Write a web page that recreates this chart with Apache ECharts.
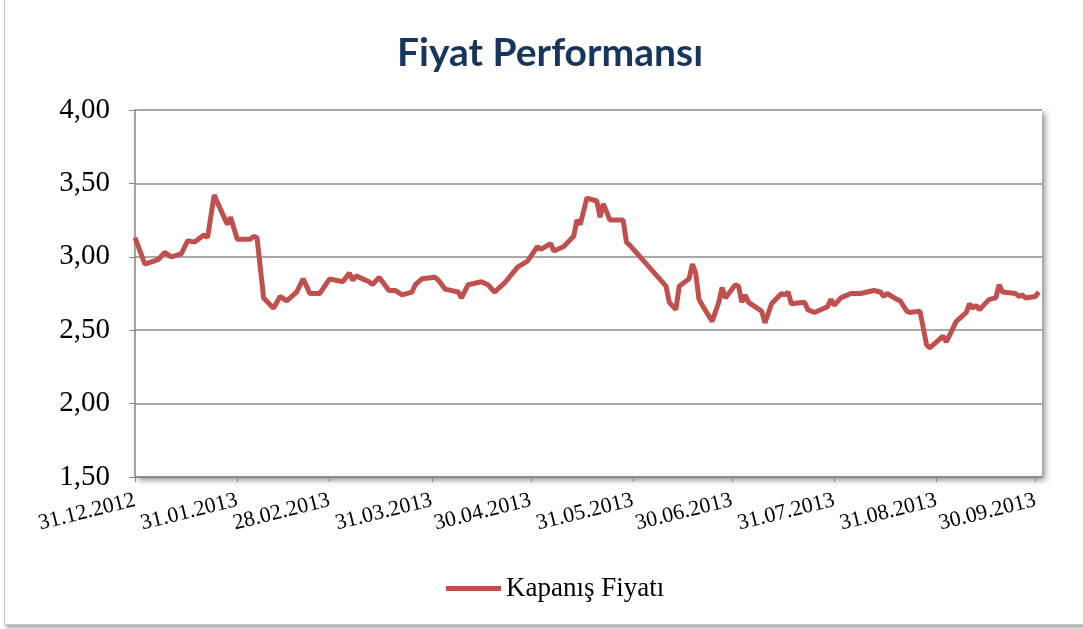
<!DOCTYPE html>
<html>
<head>
<meta charset="utf-8">
<script src="https://cdn.jsdelivr.net/npm/echarts@6/dist/echarts.min.js"></script>
<style>
  html, body { margin: 0; padding: 0; background: #fff; }
  #frame {
    position: absolute; left: 4px; top: -4px; width: 1100px; height: 627px;
    border: 1px solid #c8c8c8; box-shadow: 2px 3px 4px rgba(0,0,0,0.35); background: #fff;
  }
  #main { position: absolute; left: 0; top: 0; width: 1083px; height: 629px; }
</style>
</head>
<body>
<div id="frame"></div>
<div id="main"></div>
<script>
// closing prices
const dates = [
  "2012-12-31", "2013-01-03", "2013-01-07", "2013-01-09", "2013-01-11", "2013-01-14",
  "2013-01-16", "2013-01-18", "2013-01-21", "2013-01-22", "2013-01-24", "2013-01-28",
  "2013-01-29", "2013-01-31", "2013-02-04", "2013-02-05", "2013-02-06", "2013-02-08",
  "2013-02-11", "2013-02-13", "2013-02-15", "2013-02-18", "2013-02-20", "2013-02-22",
  "2013-02-25", "2013-02-28", "2013-03-04", "2013-03-06", "2013-03-07", "2013-03-08",
  "2013-03-12", "2013-03-13", "2013-03-15", "2013-03-18", "2013-03-20", "2013-03-22",
  "2013-03-25", "2013-03-26", "2013-03-28", "2013-04-01", "2013-04-02", "2013-04-04",
  "2013-04-08", "2013-04-09", "2013-04-11", "2013-04-15", "2013-04-17", "2013-04-19",
  "2013-04-22", "2013-04-26", "2013-04-29", "2013-05-02", "2013-05-03", "2013-05-06",
  "2013-05-07", "2013-05-09", "2013-05-10", "2013-05-13", "2013-05-14", "2013-05-15",
  "2013-05-17", "2013-05-20", "2013-05-21", "2013-05-22", "2013-05-24", "2013-05-28",
  "2013-05-29", "2013-05-30", "2013-06-10", "2013-06-11", "2013-06-13", "2013-06-14",
  "2013-06-17", "2013-06-18", "2013-06-19", "2013-06-20", "2013-06-21", "2013-06-24",
  "2013-06-26", "2013-06-27", "2013-06-28", "2013-07-01", "2013-07-02", "2013-07-03",
  "2013-07-04", "2013-07-05", "2013-07-09", "2013-07-10", "2013-07-12", "2013-07-15",
  "2013-07-16", "2013-07-17", "2013-07-18", "2013-07-22", "2013-07-23", "2013-07-25",
  "2013-07-29", "2013-07-30", "2013-07-31", "2013-08-02", "2013-08-05", "2013-08-08",
  "2013-08-12", "2013-08-14", "2013-08-15", "2013-08-16", "2013-08-19", "2013-08-20",
  "2013-08-22", "2013-08-23", "2013-08-26", "2013-08-28", "2013-08-29", "2013-09-02",
  "2013-09-03", "2013-09-06", "2013-09-09", "2013-09-10", "2013-09-11", "2013-09-12",
  "2013-09-13", "2013-09-16", "2013-09-18", "2013-09-19", "2013-09-20", "2013-09-24",
  "2013-09-25", "2013-09-26", "2013-09-27", "2013-09-30", "2013-10-01"
];
const prices = [
  3.13, 2.95, 2.98, 3.03, 3.00, 3.02,
  3.11, 3.10, 3.15, 3.13, 3.42, 3.22,
  3.27, 3.12, 3.12, 3.14, 3.13, 2.72,
  2.65, 2.73, 2.70, 2.76, 2.85, 2.75,
  2.75, 2.85, 2.83, 2.89, 2.84, 2.87,
  2.83, 2.81, 2.86, 2.77, 2.77, 2.74,
  2.76, 2.81, 2.85, 2.86, 2.84, 2.78,
  2.76, 2.72, 2.81, 2.83, 2.81, 2.76,
  2.82, 2.93, 2.97, 3.07, 3.05, 3.09,
  3.04, 3.06, 3.07, 3.14, 3.25, 3.22,
  3.40, 3.38, 3.27, 3.36, 3.25, 3.25,
  3.10, 3.08, 2.80, 2.69, 2.64, 2.80,
  2.85, 2.95, 2.89, 2.71, 2.67, 2.56,
  2.69, 2.79, 2.72, 2.81, 2.80, 2.69,
  2.74, 2.69, 2.63, 2.55, 2.68, 2.75,
  2.74, 2.76, 2.68, 2.69, 2.64, 2.62,
  2.66, 2.71, 2.67, 2.72, 2.75, 2.75,
  2.77, 2.76, 2.73, 2.75, 2.71, 2.70,
  2.63, 2.62, 2.63, 2.40, 2.38, 2.46,
  2.42, 2.56, 2.62, 2.68, 2.65, 2.67,
  2.64, 2.71, 2.72, 2.81, 2.76, 2.75,
  2.73, 2.74, 2.72, 2.73, 2.76
];
// x axis tick labels (month ends)
const monthEnds = [
  "2012-12-31", "2013-01-31", "2013-02-28", "2013-03-31", "2013-04-30",
  "2013-05-31", "2013-06-30", "2013-07-31", "2013-08-31", "2013-09-30"
];
const seriesName = "Kapanış Fiyatı";

function toTime(s) {
  const p = s.split("-").map(Number);
  return new Date(p[0], p[1] - 1, p[2]).getTime();
}
function pad(n) { return n < 10 ? "0" + n : "" + n; }

const tickTimes = monthEnds.map(toTime);

let myChart = echarts.init(document.getElementById("main"));
myChart.setOption({
  backgroundColor: "transparent",
  animation: false,
  title: {
    text: "Fiyat Performansı",
    left: 392,
    top: 29,
    textStyle: { fontFamily: "Lato", fontWeight: "bold", fontSize: 39, color: "#17365D" }
  },
  legend: {
    bottom: 22,
    left: 441,
    icon: "rect",
    itemWidth: 55,
    itemHeight: 5,
    itemGap: 4,
    textStyle: { fontFamily: "Liberation Serif", fontSize: 27, color: "#000" },
    data: [seriesName]
  },
  grid: {
    left: 135, right: 41, top: 110, bottom: 152,
    show: true,
    backgroundColor: "#fff",
    borderWidth: 0,
    shadowColor: "rgba(0,0,0,0.45)",
    shadowBlur: 6,
    shadowOffsetX: 3,
    shadowOffsetY: 3
  },
  // dates as timestamps on a value axis, so ticks can sit on month ends
  xAxis: {
    type: "value",
    min: toTime("2012-12-31"),
    max: toTime("2013-10-02"),
    axisLine: { lineStyle: { color: "#868686", width: 1.5 } },
    axisTick: { show: true, length: 5, customValues: tickTimes, lineStyle: { color: "#868686" } },
    splitLine: { show: false },
    axisLabel: {
      customValues: tickTimes,
      rotate: 14,
      margin: 23,
      fontFamily: "Liberation Serif",
      fontSize: 22,
      color: "#000",
      formatter: function (v) {
        const d = new Date(v);
        return pad(d.getDate()) + "." + pad(d.getMonth() + 1) + "." + d.getFullYear();
      }
    }
  },
  yAxis: {
    type: "value",
    min: 1.5,
    max: 4,
    interval: 0.5,
    axisLine: { show: true, lineStyle: { color: "#868686", width: 1.5 } },
    axisTick: { show: true, length: 6, lineStyle: { color: "#868686" } },
    splitLine: { lineStyle: { color: "#8c8c8c", width: 1.5 } },
    axisLabel: {
      margin: 25,
      fontFamily: "Liberation Serif",
      fontSize: 29,
      color: "#000",
      formatter: function (v) { return v.toFixed(2).replace(".", ","); }
    }
  },
  series: [{
    name: seriesName,
    type: "line",
    showSymbol: false,
    symbol: "none",
    lineStyle: { color: "#C0504D", width: 5 },
    itemStyle: { color: "#C0504D" },
    data: dates.map(function (d, i) { return [toTime(d), prices[i]]; })
  }]
});
</script>
</body>
</html>
